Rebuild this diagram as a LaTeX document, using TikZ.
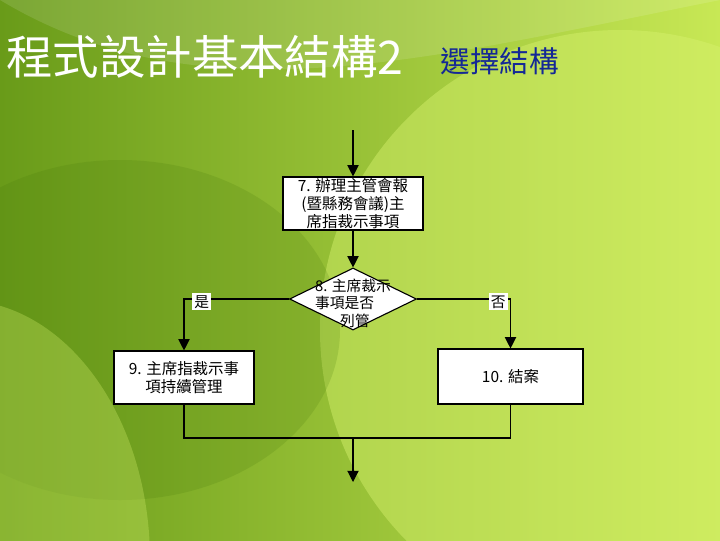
\documentclass[tikz,border=0pt]{standalone}
\usepackage{fontspec}
\newfontfamily\cjk{Noto Sans CJK TC}
\usepackage{xcolor}
\usetikzlibrary{shapes.geometric, arrows.meta, positioning}

\definecolor{bgleft}{RGB}{105,155,25}
\definecolor{bgright}{RGB}{200,232,85}
\definecolor{bglight}{RGB}{215,242,110}
\definecolor{bgdark}{RGB}{70,120,10}
\definecolor{titleblue}{RGB}{20,40,150}

\tikzset{
  box/.style={draw, fill=white, line width=0.8pt, inner sep=0pt, align=center,
    font=\cjk\fontsize{11}{12.5}\selectfont},
  dec/.style={draw, fill=white, diamond, line width=0.8pt, inner sep=0pt,
    minimum width=3.175cm, minimum height=1.55cm},
  yn/.style={fill=white, inner sep=1.5pt, font=\cjk\fontsize{10.5}{12}\selectfont}
}

\begin{document}
\begin{tikzpicture}[x=0.025cm, y=-0.025cm, line width=0.8pt,
    >={Triangle[length=8pt, width=8pt]}]
  % background
  \useasboundingbox (0,0) rectangle (720,540);
  \shade[left color=bgleft, right color=bgright] (0,0) rectangle (720,540);
  \begin{scope}
    \clip (0,0) rectangle (720,540);
    \fill[bglight, opacity=0.45] (620,330) circle (300);
    \fill[bgdark, opacity=0.18] (120,330) ellipse (220 and 170);
    \fill[bglight, opacity=0.3] (-40,560) ellipse (190 and 260);
    \fill[white, opacity=0.12] (0,0) .. controls (200,120) and (420,60) .. (720,0) -- cycle;
  \end{scope}

  % title
  \node[anchor=west, text=white, inner sep=0pt, font=\cjk\fontsize{33}{36}\selectfont]
    (title) at (6,57) {程式設計基本結構2};
  \node[anchor=west, text=titleblue, inner sep=0pt, font=\cjk\fontsize{21}{24}\selectfont]
    (subtitle) at (440,61) {選擇結構};

  % flow chart
  \coordinate (top) at (353,130);
  \node[box, minimum width=3.5cm, minimum height=1.325cm] (s7) at (353,203.5)
    {7. 辦理主管會報\\(暨縣務會議)主\\席指裁示事項};
  \node[dec, label={[align=left, yshift=-3pt, font=\cjk\fontsize{10.5}{12.5}\selectfont]center:8. 主席裁示\\事項是否\\\hspace*{1.7em}列管}]
    (s8) at (353,299) {};
  \node[box, minimum width=3.5cm, minimum height=1.325cm] (s9) at (184,377.5)
    {9. 主席指裁示事\\項持續管理};
  \node[box, minimum width=3.625cm, minimum height=1.375cm] (s10) at (510.5,376.5)
    {10. 結案};
  \coordinate (join) at (353,438);
  \coordinate (end) at (353,482);

  \draw[->] (top) -- (s7);
  \draw[->] (s7) -- (s8);
  \draw[->] (s8.west) -| node[yn, pos=0.415, yshift=-2pt] {是} (s9.north);
  \draw[->] (s8.east) -| node[yn, pos=0.435, yshift=-2pt] {否} (s10.north);
  \draw (s9.south) |- (join);
  \draw (s10.south) |- (join);
  \draw[->] (join) -- (end);
\end{tikzpicture}
\end{document}
